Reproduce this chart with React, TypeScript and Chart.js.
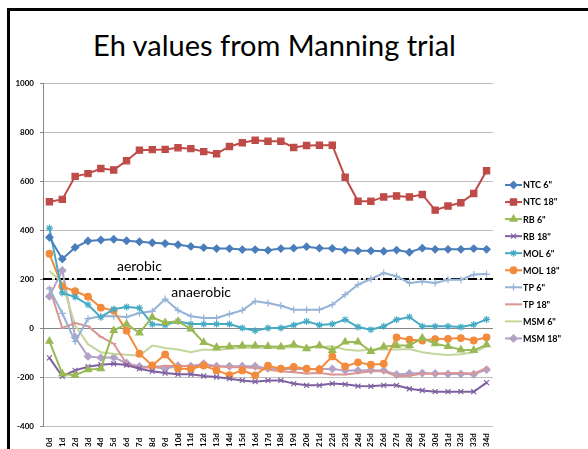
import React, { useEffect, useRef } from "react";
import { Chart, registerables } from "chart.js";
import { drawPoint } from "chart.js/helpers";

Chart.register(...registerables);

const days = ["0d","1d","2d","3d","4d","5d","6d","7d","8d","9d","10d","11d","12d","13d","14d","15d","16d","17d","18d","19d","20d","21d","22d","23d","24d","25d","26d","27d","28d","29d","30d","31d","32d","33d","34d"];

const ntc6 = [370,282,329,355,359,362,356,352,348,345,340,333,328,324,324,320,320,317,324,326,332,326,325,318,315,315,313,318,309,326,321,321,321,324,321];
const ntc18 = [515,525,619,630,651,645,683,726,728,729,736,732,720,711,741,756,766,762,762,737,745,746,746,615,517,517,535,539,535,545,481,498,511,549,642];
const rb6 = [-54,-187,-193,-170,-166,-10,16,-20,44,22,27,-4,-59,-79,-76,-72,-72,-75,-77,-68,-84,-72,-91,-57,-57,-95,-76,-71,-71,-41,-64,-75,-89,-91,-68];
const rb18 = [-122,-197,-173,-158,-150,-146,-151,-166,-177,-184,-189,-189,-196,-200,-207,-214,-219,-214,-214,-227,-234,-234,-227,-230,-237,-238,-234,-234,-248,-255,-260,-260,-260,-260,-223];
const mol6 = [408,143,127,95,44,77,86,82,15,12,27,16,16,16,16,0,-11,0,0,12,27,12,16,34,4,-7,7,34,45,7,7,7,4,14,35];
const mol18 = [303,170,150,128,83,71,-11,-105,-153,-108,-165,-167,-153,-173,-192,-173,-193,-154,-166,-159,-166,-169,-116,-157,-140,-150,-146,-38,-48,-51,-45,-44,-41,-51,-38];
const tp6 = [160,60,-55,38,48,48,45,61,68,118,72,48,41,41,57,72,109,102,91,75,75,75,95,136,177,200,224,211,184,190,184,197,197,218,220];
const tp18 = [165,0,20,7,-36,-64,-146,-163,-160,-154,-156,-154,-155,-156,-160,-160,-163,-170,-177,-181,-186,-184,-190,-190,-184,-177,-177,-197,-195,-186,-188,-184,-184,-186,-163];
const msm6 = [233,186,10,-66,-99,-105,-109,-113,-72,-82,-88,-99,-88,-91,-84,-82,-80,-82,-82,-78,-79,-79,-75,-88,-93,-88,-88,-88,-86,-99,-106,-110,-107,-99,-75];
const msm18 = [129,235,-38,-116,-121,-120,-143,-157,-158,-166,-154,-156,-146,-156,-156,-156,-156,-165,-167,-167,-167,-167,-167,-173,-173,-172,-173,-190,-186,-184,-186,-188,-188,-189,-170];

const seriesNames = ['NTC 6"', 'NTC 18"', 'RB 6"', 'RB 18"', 'MOL 6"', 'MOL 18"', 'TP 6"', 'TP 18"', 'MSM 6"', 'MSM 18"'];
const seriesValues = [ntc6, ntc18, rb6, rb18, mol6, mol18, tp6, tp18, msm6, msm18];
const seriesColors = ["#4A7EBB", "#BE4B48", "#98B954", "#7D60A0", "#46AAC5", "#F38B3C", "#95B3D7", "#D99694", "#C3D69B", "#B3A2C7"];
const seriesMarkers = ["rectRot", "rect", "triangle", "crossRot", "star", "circle", "cross", "line", "line", "rectRot"];
const markerSizes = [3.6, 4.4, 4, 3.5, 3.5, 3.3, 3.5, 2.5, 0, 3.6];

const yTicks = { min: -400, max: 1000, step: 200 };
const threshold = 200;
const zoneLabels = [
  { text: "aerobic", category: 7, value: 250 },
  { text: "anaerobic", category: 11.8, value: 146 },
];
const titleText = "Eh values from Manning trial";

const FONT = "Lato, 'Open Sans', 'DejaVu Sans', sans-serif";

export default function App() {
  const canvasRef = useRef<HTMLCanvasElement | null>(null);

  useEffect(() => {
    const canvas = canvasRef.current;
    if (!canvas) return;

    const thresholdPlugin = {
      id: "thresholdLine",
      beforeDatasetsDraw(chart: any) {
        const { ctx, chartArea, scales } = chart;
        const y = scales.y.getPixelForValue(threshold);
        ctx.save();
        ctx.strokeStyle = "#000";
        ctx.lineWidth = 2;
        ctx.setLineDash([9, 3, 2, 3]);
        ctx.beginPath();
        ctx.moveTo(chartArea.left, y);
        ctx.lineTo(chartArea.right, y);
        ctx.stroke();
        ctx.restore();
      },
      afterDatasetsDraw(chart: any) {
        const { ctx, scales } = chart;
        ctx.save();
        ctx.fillStyle = "#000";
        ctx.font = `14px ${FONT}`;
        ctx.textAlign = "center";
        ctx.textBaseline = "middle";
        const x0 = scales.x.getPixelForValue(0);
        const x1 = scales.x.getPixelForValue(1);
        zoneLabels.forEach((z) => {
          const x = x0 + (x1 - x0) * z.category;
          ctx.fillText(z.text, x, scales.y.getPixelForValue(z.value));
        });
        ctx.restore();
      },
    };

    const xLabelPlugin = {
      id: "xLabels",
      afterDraw(chart: any) {
        const { ctx, scales } = chart;
        ctx.save();
        ctx.fillStyle = "#000";
        ctx.font = `bold 8px ${FONT}`;
        ctx.textAlign = "left";
        ctx.textBaseline = "middle";
        days.forEach((d, i) => {
          const x = scales.x.getPixelForValue(i);
          ctx.save();
          ctx.translate(x, 447);
          ctx.rotate(-Math.PI / 2);
          ctx.fillText(d, 0, 0);
          ctx.restore();
        });
        ctx.restore();
      },
    };

    const legendPlugin = {
      id: "sideLegend",
      afterDraw(chart: any) {
        const { ctx } = chart;
        ctx.save();
        seriesNames.forEach((name, i) => {
          const y = 185 + i * 17.05;
          ctx.strokeStyle = seriesColors[i];
          ctx.lineWidth = 2;
          ctx.setLineDash([]);
          ctx.beginPath();
          ctx.moveTo(505, y);
          ctx.lineTo(522, y);
          ctx.stroke();
          if (markerSizes[i] > 0) {
            ctx.fillStyle = seriesColors[i];
            ctx.strokeStyle = seriesColors[i];
            ctx.lineWidth = 1.2;
            drawPoint(ctx, { pointStyle: seriesMarkers[i], radius: markerSizes[i], rotation: 0, borderWidth: 1.2 } as any, 513.5, y);
          }
          ctx.fillStyle = "#000";
          ctx.font = `bold 9px ${FONT}`;
          ctx.textAlign = "left";
          ctx.textBaseline = "middle";
          ctx.fillText(name, 523, y + 0.5);
        });
        ctx.restore();
      },
    };

    const chart = new Chart(canvas, {
      type: "line",
      data: {
        labels: days,
        datasets: seriesNames.map((name, i) => ({
          label: name,
          data: seriesValues[i],
          borderColor: seriesColors[i],
          backgroundColor: seriesColors[i],
          borderWidth: 2,
          tension: 0,
          pointStyle: seriesMarkers[i] as any,
          pointRadius: markerSizes[i],
          pointBackgroundColor: seriesColors[i],
          pointBorderColor: seriesColors[i],
          pointBorderWidth: 1.2,
          fill: false,
        })),
      },
      options: {
        animation: false,
        responsive: false,
        events: [],
        layout: { padding: { left: 0, right: 95, top: 83, bottom: 0 } },
        plugins: {
          legend: { display: false },
          title: { display: false },
          tooltip: { enabled: false },
        },
        scales: {
          x: {
            type: "category",
            offset: true,
            grid: { display: false },
            border: { display: false },
            ticks: { display: false },
            afterFit(scale: any) {
              scale.height = 23;
            },
          },
          y: {
            min: yTicks.min,
            max: yTicks.max,
            ticks: {
              stepSize: yTicks.step,
              color: "#000",
              font: { family: FONT, size: 8, weight: "bold" },
              padding: 6,
              callback: (v: any) => String(v),
            },
            grid: {
              color: (c: any) => (c.tick && c.tick.value === 0 ? "#868686" : "#BFBFBF"),
              lineWidth: 1,
              tickLength: 3,
              tickColor: "#868686",
            },
            border: { display: true, color: "#868686", width: 1 },
            afterFit(scale: any) {
              scale.width = 43;
            },
          },
        },
      },
      plugins: [thresholdPlugin, xLabelPlugin, legendPlugin],
    });

    return () => chart.destroy();
  }, []);

  return (
    <div style={{ position: "fixed", left: 0, top: 0, width: 588, height: 449, background: "#fff", overflow: "hidden" }}>
      <div
        style={{
          position: "absolute",
          left: 7,
          top: 8,
          width: 600,
          height: 460,
          borderTop: "3px solid #000",
          borderLeft: "3px solid #000",
          boxSizing: "border-box",
        }}
      />
      <div
        style={{
          position: "absolute",
          left: 0,
          width: 549,
          top: 25,
          textAlign: "center",
          fontFamily: FONT,
          fontSize: 29,
          lineHeight: "40px",
          color: "#000",
          whiteSpace: "nowrap",
        }}
      >
        {titleText}
      </div>
      <canvas
        ref={canvasRef}
        width={588}
        height={449}
        style={{ position: "absolute", left: 0, top: 0, width: 588, height: 449 }}
      />
    </div>
  );
}
